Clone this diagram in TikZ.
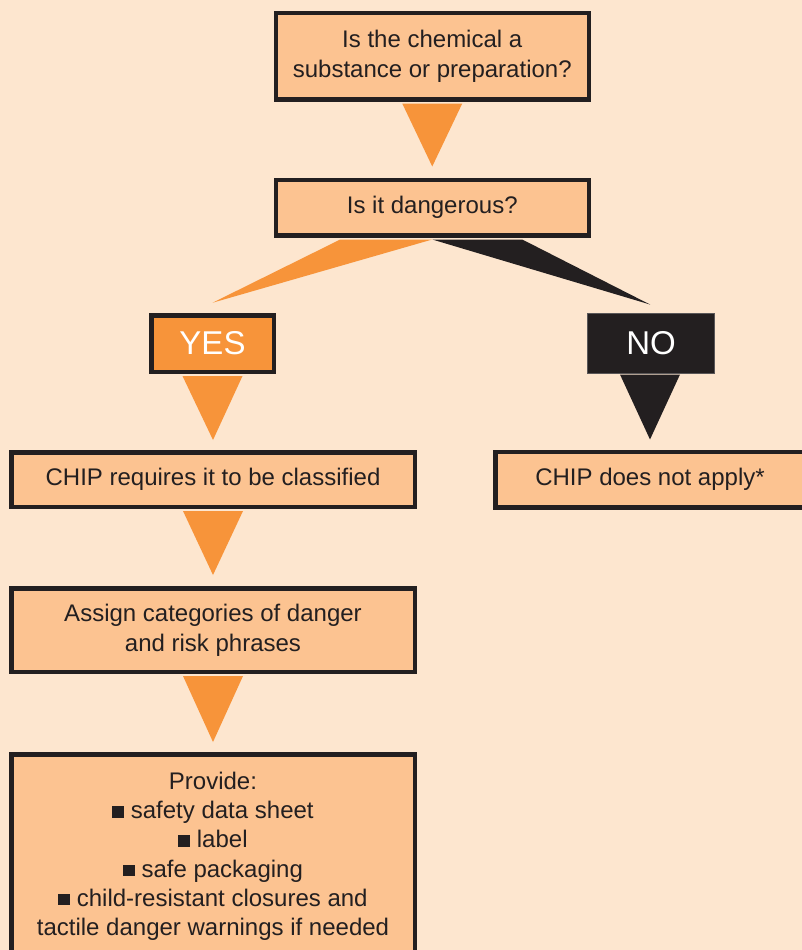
\documentclass[tikz,border=0pt]{standalone}
\usepackage{fontspec}
\setmainfont{Liberation Sans}
\usetikzlibrary{calc}
\definecolor{bg}{HTML}{FDE6CF}
\definecolor{boxfill}{HTML}{FCC391}
\definecolor{orng}{HTML}{F7943A}
\definecolor{dark}{HTML}{231F20}
\newcommand\sqb{\raisebox{1pt}{\rule{11.5pt}{11.5pt}}\hspace{7pt}}
\begin{document}
\begin{tikzpicture}[x=1pt,y=-1pt,
  qbox/.style={draw=dark,line width=4.5pt,fill=boxfill,text=dark,align=center,
    font=\fontsize{24}{30}\selectfont,inner sep=0pt},
  yesbox/.style={draw=dark,line width=4.5pt,fill=orng,text=white,
    font=\fontsize{33}{36}\selectfont,inner sep=0pt},
  nobox/.style={draw=dark!75,line width=1pt,fill=dark,text=white,
    font=\fontsize{33}{36}\selectfont,inner sep=0pt},
  oarrow/.style={fill=orng},
  darrow/.style={fill=dark}]
\useasboundingbox (0,0) rectangle (802,950);
\clip (0,0) rectangle (802,950);
\fill[bg] (0,0) rectangle (802,950);

\node[qbox,minimum width=313pt,minimum height=86pt] (q1) at (432.25,56.25)
  {Is the chemical a\\substance or preparation?};
\node[qbox,minimum width=313pt,minimum height=55.5pt] (q2) at (432.25,207.5)
  {Is it dangerous?};
\node[yesbox,minimum width=122.5pt,minimum height=56.5pt] (yes) at (212.5,343.5) {YES};
\node[nobox,minimum width=127pt,minimum height=60pt] (no) at (651,343.5) {NO};
\node[qbox,minimum width=403.5pt,minimum height=54.5pt] (c1) at (213,479.5)
  {CHIP requires it to be classified};
\node[qbox,minimum width=309.5pt,minimum height=55.5pt] (c2) at (650,479.5)
  {CHIP does not apply*};
\node[qbox,minimum width=403.5pt,minimum height=83.5pt] (a1) at (213,630)
  {Assign categories of danger\\and risk phrases};
\node[qbox,minimum width=403.5pt,minimum height=204pt,font=\fontsize{24}{29.2}\selectfont] (p1) at (213,856.25)
  {Provide:\\\sqb safety data sheet\\\sqb label\\\sqb safe packaging\\\sqb child-resistant closures and\\tactile danger warnings if needed};

\fill[oarrow] ($(q1.south)+(-30,2)$) -- ($(q1.south)+(30,2)$) -- ($(q2.north)+(0,-11)$) -- cycle;
\fill[oarrow] ($(q2.south)+(-92,2)$) -- ($(q2.south)+(0,2)$) -- ($(yes.north)+(0,-10.25)$) -- cycle;
\fill[darrow] ($(q2.south)+(0,2)$) -- ($(q2.south)+(90,2)$) -- ($(no.north)+(-1,-8.5)$) -- cycle;
\fill[oarrow] ($(yes.south)+(-30,2)$) -- ($(yes.south)+(30,2)$) -- ($(c1.north)+(0,-10)$) -- cycle;
\fill[darrow] ($(no.south)+(-31,0.5)$) -- ($(no.south)+(29,0.5)$) -- ($(c2.north)+(0,-10)$) -- cycle;
\fill[oarrow] ($(c1.south)+(-30,2)$) -- ($(c1.south)+(30,2)$) -- ($(a1.north)+(0,-11)$) -- cycle;
\fill[oarrow] ($(a1.south)+(-30,2)$) -- ($(a1.south)+(30,2)$) -- ($(p1.north)+(0,-10)$) -- cycle;
\end{tikzpicture}
\end{document}
